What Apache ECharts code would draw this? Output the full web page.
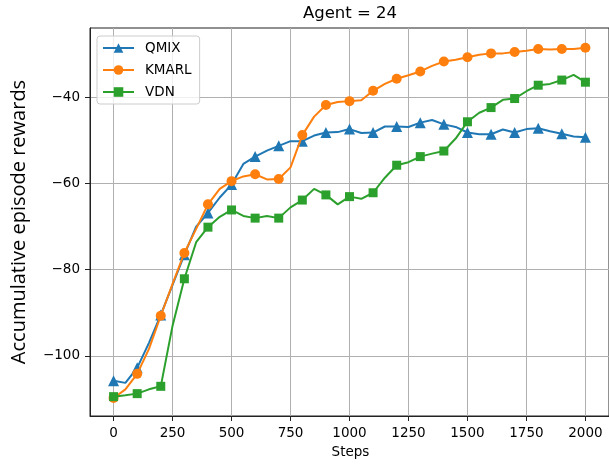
<!DOCTYPE html>
<html>
<head>
<meta charset="utf-8">
<script src="https://cdn.jsdelivr.net/npm/echarts@6/dist/echarts.min.js"></script>
<style>html,body{margin:0;padding:0;background:#fff}#c{width:609px;height:464px}</style>
</head>
<body>
<div id="c"></div>
<script>
const steps = [0,50,100,150,200,250,300,350,400,450,500,550,600,650,700,750,800,850,900,950,1000,1050,1100,1150,1200,1250,1300,1350,1400,1450,1500,1550,1600,1650,1700,1750,1800,1850,1900,1950,2000];
const qmix = [-105.8,-106.3,-102.8,-97,-90.5,-83.5,-76.5,-70,-66.8,-63.2,-60.2,-55.4,-53.7,-52.3,-51.2,-50.1,-50.1,-48.8,-48.1,-48.0,-47.3,-48.2,-48.1,-46.7,-46.7,-46.8,-45.8,-45.2,-46.2,-46.8,-48.1,-48.5,-48.5,-47.4,-48.1,-47.3,-47.1,-47.8,-48.4,-49.0,-49.2];
const kmarl = [-109.8,-107.8,-104.2,-98.4,-90.7,-83.3,-76.1,-70.5,-64.8,-61.2,-59.4,-58.3,-57.8,-59.0,-58.9,-56.2,-48.7,-44.4,-41.7,-41.0,-40.8,-40.6,-38.4,-36.8,-35.6,-34.8,-33.9,-32.6,-31.6,-31.2,-30.6,-30.0,-29.7,-29.7,-29.4,-29.1,-28.7,-28.8,-28.7,-28.7,-28.4];
const vdn = [-109.5,-109.2,-108.8,-107.8,-107.1,-93.0,-82.1,-73.6,-70.1,-67.7,-66.1,-67.5,-68.0,-67.5,-68.0,-65.5,-63.8,-61.2,-62.6,-64.8,-63.0,-63.5,-62.1,-58.6,-55.7,-55.0,-53.7,-53.0,-52.4,-49.5,-45.6,-43.5,-42.3,-40.5,-40.2,-38.5,-37.1,-36.8,-35.9,-34.7,-36.4];
const xTicks = [0,250,500,750,1000,1250,1500,1750,2000];
const yTicks = [-100,-80,-60,-40];
const seriesNames = ['QMIX','KMARL','VDN'];

const colors = ['#1f77b4','#ff7f0e','#2ca02c'];
const symbols = ['triangle','circle','rect'];
const sizes = [11,10,9];
const vals = [qmix,kmarl,vdn];
const fmt = v => String(v).replace('-', '\u2212');

const chart = echarts.init(document.getElementById('c'), null, {renderer:'canvas'});
const gridLine = {show:true, lineStyle:{color:'#b0b0b0', width:1}};
chart.setOption({
  animation:false,
  backgroundColor:'#fff',
  textStyle:{fontFamily:'DejaVu Sans'},
  grid:{left:90, top:28, width:521, height:388, show:true, borderColor:'#222', borderWidth:1, backgroundColor:'transparent'},
  xAxis:{type:'value', min:-100, max:2100,
    axisLine:{show:true, onZero:false, lineStyle:{color:'#222', width:1}},
    axisTick:{show:true, length:5, customValues:xTicks, lineStyle:{color:'#222'}},
    axisLabel:{customValues:xTicks, color:'#000', fontSize:13.5, margin:10, fontFamily:'DejaVu Sans', formatter:v=>String(v)},
    splitLine:Object.assign({customValues:xTicks}, gridLine)},
  yAxis:{type:'value', min:-114, max:-23.8,
    axisLine:{show:true, onZero:false, lineStyle:{color:'#222', width:1}},
    axisTick:{show:true, length:5, customValues:yTicks, lineStyle:{color:'#222'}},
    axisLabel:{customValues:yTicks, color:'#000', fontSize:13.5, margin:10, fontFamily:'DejaVu Sans', formatter:fmt},
    splitLine:Object.assign({customValues:yTicks}, gridLine)},
  legend:{orient:'vertical', left:97, top:36, padding:[5,8,5,5], itemGap:8, itemWidth:31, itemHeight:12,
    backgroundColor:'rgba(255,255,255,0.8)', borderColor:'#cccccc', borderWidth:1, borderRadius:3,
    textStyle:{fontSize:13.5, color:'#000', fontFamily:'DejaVu Sans', lineHeight:14, padding:[0,0,0,6]},
    data:seriesNames},
  graphic:[
    {type:'text', x:350, y:14, style:{text:'Agent = 24', fontSize:16.5, fontFamily:'DejaVu Sans', fill:'#000', align:'center', verticalAlign:'middle'}},
    {type:'text', x:350.5, y:452, style:{text:'Steps', fontSize:13.5, fontFamily:'DejaVu Sans', fill:'#000', align:'center', verticalAlign:'middle'}},
    {type:'text', x:19, y:222, rotation:Math.PI/2, style:{text:'Accumulative episode rewards', fontSize:20, fontFamily:'Open Sans', fill:'#000', align:'center', verticalAlign:'middle'}}
  ],
  series: seriesNames.map((n,i)=>({
    name:n, type:'line', z:2+i,
    data: steps.map((s,k)=>[s, vals[i][k]]),
    symbol:symbols[i],
    symbolSize:(v,p)=> (p.dataIndex % 2 === 0 ? sizes[i] : 0),
    showAllSymbol:true,
    itemStyle:{color:colors[i]},
    lineStyle:{color:colors[i], width:2},
    emphasis:{disabled:true}
  }))
});
</script>
</body>
</html>
